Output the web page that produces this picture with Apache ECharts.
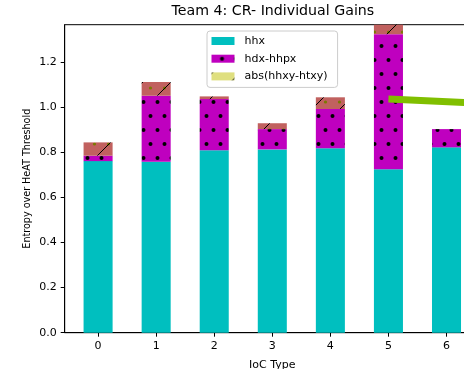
<!DOCTYPE html>
<html>
<head>
<meta charset="utf-8">
<script src="https://cdn.jsdelivr.net/npm/echarts@6/dist/echarts.min.js"></script>
<style>
  html, body { margin: 0; padding: 0; background: #ffffff; }
  #chart { width: 464px; height: 369px; }
</style>
</head>
<body>
<div id="chart"></div>
<script>
// IoC types on the x axis
const iocTypes = [0, 1, 2, 3, 4, 5, 6];
// Stacked segments, bottom to top
const hhx = [0.761, 0.758, 0.809, 0.813, 0.818, 0.725, 0.822];
const hdxMinusHhpx = [0.024, 0.293, 0.227, 0.090, 0.174, 0.599, 0.081];
const absHhxyHtxy = [0.059, 0.061, 0.012, 0.026, 0.052, 0.050, 0.000];
// Tick values
const yTicks = [0, 0.2, 0.4, 0.6, 0.8, 1.0, 1.2];
const xTicks = [0, 1, 2, 3, 4, 5, 6];
// Green pointer line (x, y in data units)
const pointer = [[5.0, 1.036], [6.62, 1.017]];

const FONT = 'DejaVu Sans';
const Y_MAX = 1.366;
const X_MIN = -0.575, X_MAX = 6.575;

// Frame of the axes in pixels
const FRAME = { left: 64.7, top: 24.7, width: 415.2, height: 308 };
const unit = FRAME.width / (X_MAX - X_MIN);
// The bars live on a category axis whose bands line up with the value axis ticks
const BAR_GRID = {
  left: FRAME.left + (iocTypes[0] - 0.5 - X_MIN) * unit,
  top: FRAME.top,
  width: iocTypes.length * unit,
  height: FRAME.height
};

// Build a repeating 28x28 fill tile: background, dot lattice, optional "/" hatch
function makeTile(bg, dotColor, dotR, hatch) {
  const s = 28;
  const c = document.createElement('canvas');
  c.width = s; c.height = s;
  const g = c.getContext('2d');
  g.fillStyle = bg;
  g.fillRect(0, 0, s, s);
  if (dotColor) {
    g.fillStyle = dotColor;
    [[3.5, 18], [17.5, 18], [10.5, 4], [24.5, 4]].forEach(([x, y]) => {
      g.beginPath(); g.arc(x, y, dotR, 0, Math.PI * 2); g.fill();
    });
  }
  if (hatch) {
    g.strokeStyle = '#000000';
    g.lineWidth = 1;
    [1, 29, 57].forEach(k => {
      g.beginPath(); g.moveTo(-2, k + 2); g.lineTo(k + 2, -2); g.stroke();
    });
  }
  return { image: c, repeat: 'repeat' };
}

const magentaFill = makeTile('#bf00bf', '#000000', 2, false);
const redFill = makeTile('#c1615f', '#7a7a00', 1.6, true);
const khakiFill = makeTile('#dfdf7f', null, 0, true);

const chart = echarts.init(document.getElementById('chart'), null, { renderer: 'canvas' });

const barCommon = {
  type: 'bar', stack: 'total', barWidth: 0.5 * unit,
  xAxisIndex: 1, yAxisIndex: 1
};

chart.setOption({
  animation: false,
  backgroundColor: '#ffffff',
  textStyle: { fontFamily: FONT },
  title: {
    text: 'Team 4: CR- Individual Gains',
    left: 171.5,
    top: 4,
    padding: 0,
    textStyle: { fontFamily: FONT, fontSize: 14.2, fontWeight: 'normal', color: '#000000' }
  },
  legend: {
    orient: 'vertical',
    left: 207,
    top: 31,
    padding: [3, 10, 4, 4.5],
    itemWidth: 23,
    itemHeight: 8,
    itemGap: 3.7,
    icon: 'rect',
    borderColor: '#cccccc',
    borderWidth: 1,
    borderRadius: 3,
    backgroundColor: '#ffffff',
    selectedMode: false,
    textStyle: { fontFamily: FONT, fontSize: 11, color: '#000000', lineHeight: 14, padding: [0, 0, 0, 5] },
    data: [
      { name: 'hhx', itemStyle: { color: '#00bfbf' } },
      { name: 'hdx-hhpx', itemStyle: { color: magentaFill } },
      { name: 'abs(hhxy-htxy)', itemStyle: { color: khakiFill } }
    ]
  },
  grid: [
    Object.assign({ show: true, borderColor: '#000000', borderWidth: 1, backgroundColor: 'transparent',
      containLabel: false, outerBoundsMode: 'none' }, FRAME),
    Object.assign({ show: false, containLabel: false, outerBoundsMode: 'none' }, BAR_GRID)
  ],
  xAxis: [
    {
      gridIndex: 0,
      type: 'value',
      min: X_MIN,
      max: X_MAX,
      name: 'IoC Type',
      nameLocation: 'middle',
      nameGap: 27,
      nameTextStyle: { fontFamily: FONT, fontSize: 11, color: '#000000' },
      axisLine: { show: true, onZero: false, lineStyle: { color: '#000000', width: 1 } },
      axisTick: { show: true, length: 4, customValues: xTicks, lineStyle: { color: '#000000' } },
      axisLabel: { customValues: xTicks, margin: 8, fontFamily: FONT, fontSize: 11, color: '#000000' },
      splitLine: { show: false }
    },
    {
      gridIndex: 1,
      type: 'category',
      data: iocTypes,
      show: false
    }
  ],
  yAxis: [
    {
      gridIndex: 0,
      type: 'value',
      min: 0,
      max: Y_MAX,
      name: 'Entropy over HeAT Threshold',
      nameLocation: 'middle',
      nameGap: 32,
      nameMoveOverlap: false,
      nameTextStyle: { fontFamily: FONT, fontSize: 9.6, color: '#000000' },
      axisLine: { show: true, onZero: false, lineStyle: { color: '#000000', width: 1 } },
      axisTick: { show: true, length: 4, customValues: yTicks, lineStyle: { color: '#000000' } },
      axisLabel: {
        customValues: yTicks, margin: 8, fontFamily: FONT, fontSize: 11, color: '#000000',
        formatter: v => v.toFixed(1)
      },
      splitLine: { show: false }
    },
    {
      gridIndex: 1,
      type: 'value',
      min: 0,
      max: Y_MAX,
      show: false
    }
  ],
  series: [
    Object.assign({ name: 'hhx', itemStyle: { color: '#00bfbf' }, data: hhx }, barCommon),
    Object.assign({ name: 'hdx-hhpx', itemStyle: { color: magentaFill }, data: hdxMinusHhpx }, barCommon),
    Object.assign({ name: 'abs(hhxy-htxy)', itemStyle: { color: redFill }, data: absHhxyHtxy }, barCommon),
    {
      name: 'pointer', type: 'line', symbol: 'none', silent: true, z: 5,
      xAxisIndex: 0, yAxisIndex: 0,
      lineStyle: { color: '#80bf00', width: 7, cap: 'butt' },
      data: pointer
    }
  ]
});
</script>
</body>
</html>
